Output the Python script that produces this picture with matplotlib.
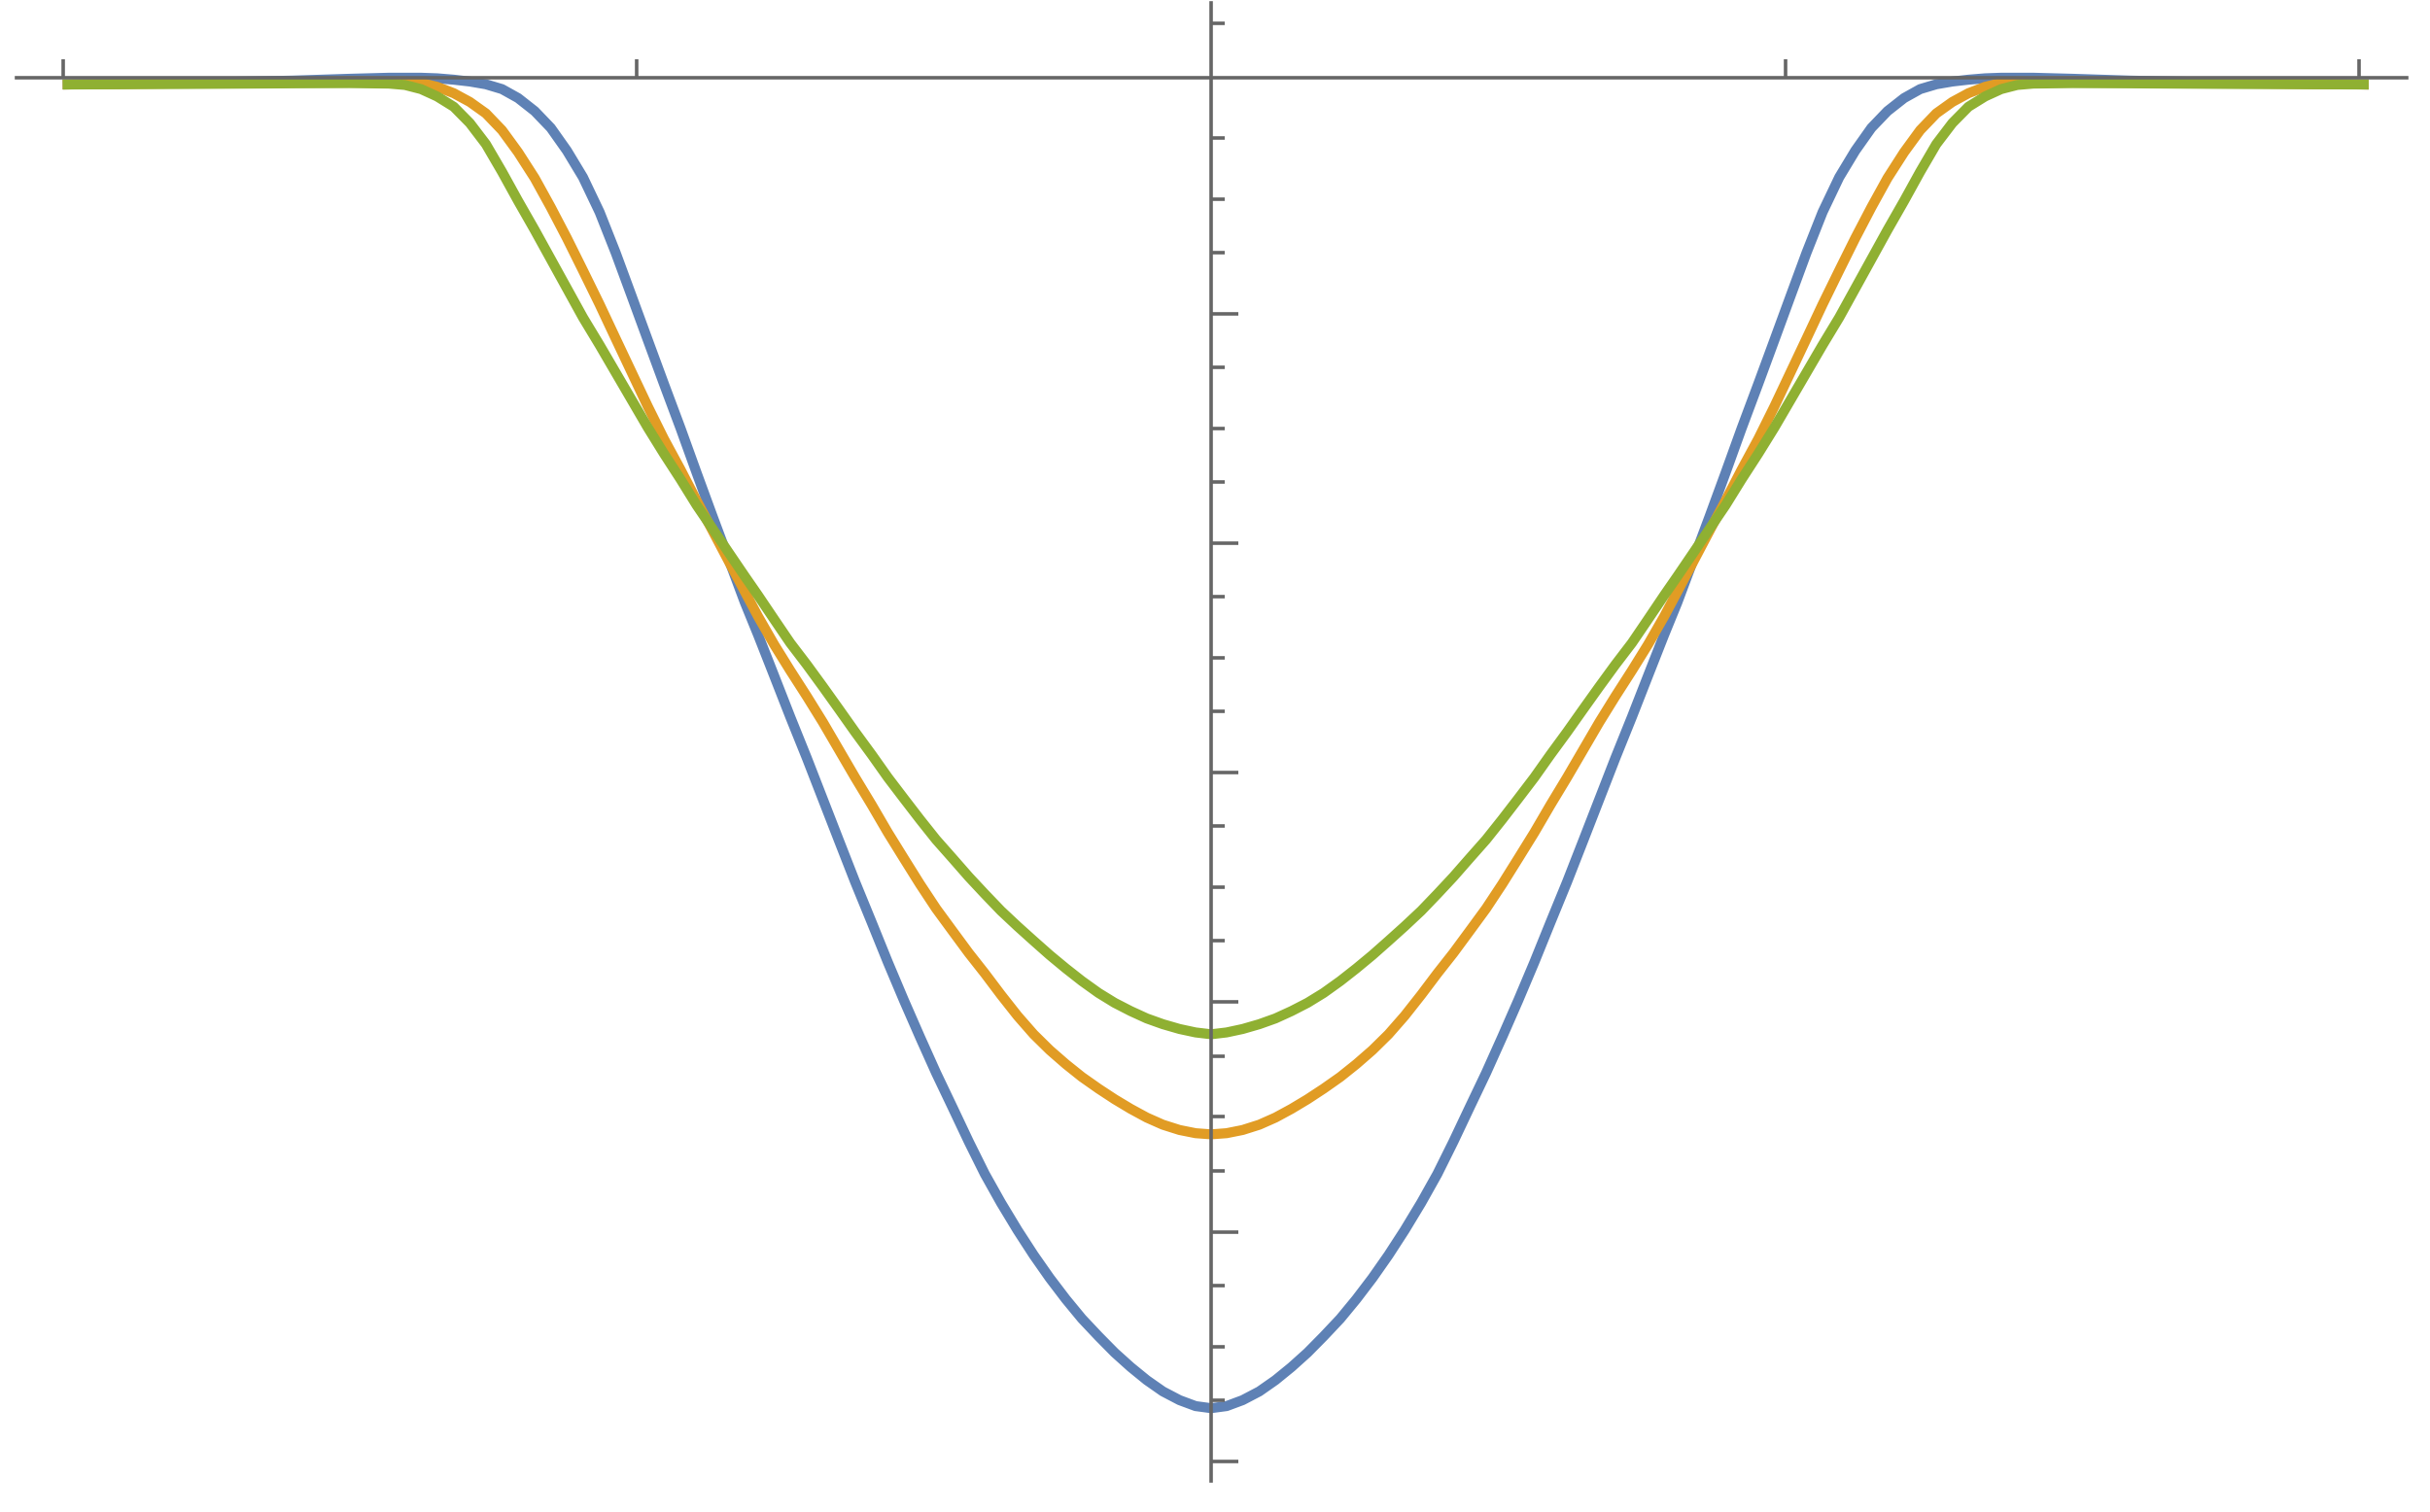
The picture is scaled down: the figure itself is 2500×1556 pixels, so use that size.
# plot.py
# Three symmetric wells drawn Mathematica-style: axes through the plot, no labels.

import matplotlib
matplotlib.use("Agg")
import matplotlib.pyplot as plt

# --- Data (x in axis units, y in major-tick units) ---

X_VALUES = [-2.0, -1.8, -1.6, -1.5, -1.432, -1.404, -1.376, -1.348, -1.319, -1.291,
            -1.263, -1.235, -1.207, -1.178, -1.150, -1.122, -1.094, -1.065, -1.037, -1.009,
            -0.981, -0.953, -0.924, -0.896, -0.868, -0.840, -0.812, -0.789, -0.761, -0.733,
            -0.704, -0.676, -0.648, -0.620, -0.591, -0.563, -0.535, -0.507, -0.479, -0.450,
            -0.422, -0.394, -0.366, -0.337, -0.309, -0.281, -0.253, -0.225, -0.196, -0.168,
            -0.140, -0.112, -0.084, -0.055, -0.027, 0.0,
            0.027, 0.055, 0.084, 0.112, 0.140, 0.168, 0.196, 0.225, 0.253, 0.281,
            0.309, 0.337, 0.366, 0.394, 0.422, 0.450, 0.479, 0.507, 0.535, 0.563,
            0.591, 0.620, 0.648, 0.676, 0.704, 0.733, 0.761, 0.789, 0.812, 0.840,
            0.868, 0.896, 0.924, 0.953, 0.981, 1.009, 1.037, 1.065, 1.094, 1.122,
            1.150, 1.178, 1.207, 1.235, 1.263, 1.291, 1.319, 1.348, 1.376, 1.404,
            1.432, 1.5, 1.6, 1.8, 2.016]

BLUE_Y = [-0.002, 0.005, 0.015, 0.023, 0.0275, 0.0275, 0.0275, 0.025, 0.019, 0.011,
          -0.001, -0.022, -0.061, -0.118, -0.191, -0.290, -0.406, -0.558, -0.735, -0.925,
          -1.116, -1.306, -1.500, -1.694, -1.885, -2.072, -2.259, -2.400, -2.578, -2.757,
          -2.937, -3.117, -3.297, -3.476, -3.653, -3.826, -3.992, -4.152, -4.308, -4.460,
          -4.608, -4.749, -4.874, -4.994, -5.102, -5.202, -5.294, -5.379, -5.456, -5.527,
          -5.590, -5.647, -5.696, -5.734, -5.760, -5.769,
          -5.760, -5.734, -5.696, -5.647, -5.590, -5.527, -5.456, -5.379, -5.294, -5.202,
          -5.102, -4.994, -4.874, -4.749, -4.608, -4.460, -4.308, -4.152, -3.992, -3.826,
          -3.653, -3.476, -3.297, -3.117, -2.937, -2.757, -2.578, -2.400, -2.259, -2.072,
          -1.885, -1.694, -1.500, -1.306, -1.116, -0.925, -0.735, -0.558, -0.406, -0.290,
          -0.191, -0.118, -0.061, -0.022, -0.001, 0.011, 0.019, 0.025, 0.0275, 0.0275,
          0.0275, 0.023, 0.015, 0.005, -0.002]

ORANGE_Y = [-0.002, 0.003, 0.009, 0.012, 0.011, 0.011, 0.005, -0.012, -0.040, -0.078,
            -0.128, -0.201, -0.297, -0.410, -0.537, -0.671, -0.812, -0.960, -1.109, -1.257,
            -1.405, -1.546, -1.680, -1.815, -1.947, -2.080, -2.212, -2.320, -2.442, -2.555,
            -2.668, -2.781, -2.901, -3.021, -3.141, -3.261, -3.374, -3.486, -3.592, -3.691,
            -3.786, -3.875, -3.968, -4.060, -4.140, -4.209, -4.270, -4.326, -4.377, -4.423,
            -4.465, -4.503, -4.534, -4.557, -4.571, -4.576,
            -4.571, -4.557, -4.534, -4.503, -4.465, -4.423, -4.377, -4.326, -4.270, -4.209,
            -4.140, -4.060, -3.968, -3.875, -3.786, -3.691, -3.592, -3.486, -3.374, -3.261,
            -3.141, -3.021, -2.901, -2.781, -2.668, -2.555, -2.442, -2.320, -2.212, -2.080,
            -1.947, -1.815, -1.680, -1.546, -1.405, -1.257, -1.109, -0.960, -0.812, -0.671,
            -0.537, -0.410, -0.297, -0.201, -0.128, -0.078, -0.040, -0.012, 0.005, 0.011,
            0.011, 0.012, 0.009, 0.003, -0.002]

GREEN_Y = [-0.002, 0.000, 0.003, 0.004, 0.002, -0.004, -0.022, -0.054, -0.099, -0.170,
           -0.262, -0.382, -0.509, -0.636, -0.763, -0.890, -1.017, -1.137, -1.257, -1.377,
           -1.497, -1.610, -1.722, -1.835, -1.938, -2.042, -2.145, -2.228, -2.332, -2.435,
           -2.530, -2.626, -2.724, -2.823, -2.922, -3.021, -3.113, -3.204, -3.292, -3.374,
           -3.454, -3.529, -3.602, -3.670, -3.733, -3.795, -3.853, -3.908, -3.960, -4.003,
           -4.039, -4.071, -4.096, -4.117, -4.132, -4.140,
           -4.132, -4.117, -4.096, -4.071, -4.039, -4.003, -3.960, -3.908, -3.853, -3.795,
           -3.733, -3.670, -3.602, -3.529, -3.454, -3.374, -3.292, -3.204, -3.113, -3.021,
           -2.922, -2.823, -2.724, -2.626, -2.530, -2.435, -2.332, -2.228, -2.145, -2.042,
           -1.938, -1.835, -1.722, -1.610, -1.497, -1.377, -1.257, -1.137, -1.017, -0.890,
           -0.763, -0.636, -0.509, -0.382, -0.262, -0.170, -0.099, -0.054, -0.022, -0.004,
           0.002, 0.004, 0.003, 0.000, -0.002]

# Tick positions (no labels in the reference)
X_TICKS = [-2, -1, 1, 2]
Y_MAJOR_TICKS = [-1, -2, -3, -4, -5, -6]
Y_MINOR_TICKS = [0.265, -0.234, -0.5, -0.734, -1.234, -1.5, -1.734, -2.234, -2.5, -2.734,
                 -3.234, -3.5, -3.734, -4.234, -4.5, -4.734, -5.234, -5.5, -5.734]

# --- Style ---
BLUE = "#5E81B5"
ORANGE = "#E19C24"
GREEN = "#8FB032"
AXIS_GRAY = "#666666"
CURVE_WIDTH = 7.4
AXIS_WIDTH = 2.6

fig = plt.figure(figsize=(25, 15.56), dpi=100)
ax = fig.add_axes([0, 0, 1, 1])

for ys, color in [(BLUE_Y, BLUE), (ORANGE_Y, ORANGE), (GREEN_Y, GREEN)]:
    ax.plot(X_VALUES, ys, color=color, linewidth=CURVE_WIDTH,
            solid_capstyle="butt", solid_joinstyle="round")

ax.set_xlim(-2.1093, 2.1229)
ax.set_ylim(-6.2214, 0.3662)

# axes cross inside the plot, drawn over the curves
ax.spines["top"].set_visible(False)
ax.spines["right"].set_visible(False)
ax.spines["bottom"].set_position(("data", 0.0275))
ax.spines["left"].set_position(("data", 0.0))
ax.spines["bottom"].set_bounds(-2.081, 2.082)
ax.spines["left"].set_bounds(-6.086, 0.3535)
for side in ["bottom", "left"]:
    ax.spines[side].set_color(AXIS_GRAY)
    ax.spines[side].set_linewidth(AXIS_WIDTH)
    ax.spines[side].set_zorder(5)
ax.set_axisbelow(False)

ax.set_xticks(X_TICKS)
ax.set_yticks(Y_MAJOR_TICKS)
ax.set_yticks(Y_MINOR_TICKS, minor=True)
ax.tick_params(axis="x", which="major", direction="in", length=13.7,
               width=AXIS_WIDTH, color=AXIS_GRAY, labelbottom=False)
ax.tick_params(axis="y", which="major", direction="in", length=20,
               width=AXIS_WIDTH, color=AXIS_GRAY, labelleft=False)
ax.tick_params(axis="y", which="minor", direction="in", length=10,
               width=AXIS_WIDTH, color=AXIS_GRAY)

fig.savefig("out.png", dpi=100, facecolor="white")
